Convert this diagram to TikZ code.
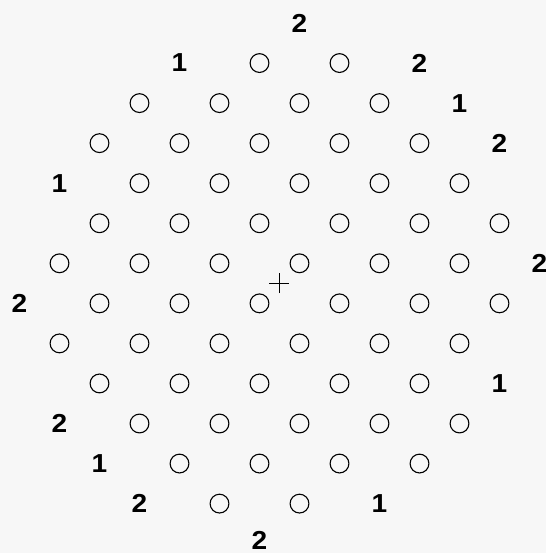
\documentclass[tikz,border=0pt]{standalone}
\usepackage{fontspec}
\setmainfont{Liberation Sans}
\definecolor{bg}{HTML}{F7F7F7}
\begin{document}
\begin{tikzpicture}[x=1pt,y=-1pt,
  hole/.style={circle,draw,line width=1.1pt,minimum size=18.8pt,inner sep=0pt},
  lbl/.style={font=\fontsize{26}{26}\selectfont\bfseries,inner sep=0pt,anchor=center,xscale=1.08}]
\fill[bg] (0,0) rectangle (546,553);
\useasboundingbox (0,0) rectangle (546,553);
% circles: row / first column / last column
\foreach \r/\a/\b in {1/3/4, 2/1/4, 3/1/5, 4/1/5, 5/1/6, 6/0/5, 7/1/6, 8/0/5, 9/1/5, 10/1/5, 11/2/5, 12/2/3}{
  \foreach \k in {\a,...,\b}{
    \pgfmathsetmacro\xx{59.5+80*\k-40*mod(\r,2)}
    \pgfmathsetmacro\yy{23+40.05*\r}
    \node[hole] (c\r-\k) at (\xx,\yy) {};
  }
}
% labels: row / column / text
\foreach \r/\k/\t in {0/3/2, 1/2/1, 1/5/2, 2/5/1, 3/6/2, 4/0/1, 6/6/2, 7/0/2, 9/6/1, 10/0/2, 11/1/1, 12/1/2, 12/4/1}{
  \pgfmathsetmacro\xx{59.5+80*\k-40*mod(\r,2)}
  \pgfmathsetmacro\yy{23+40.05*\r}
  \node[lbl] (l\r-\k) at (\xx,\yy) {\t};
}
\node[lbl] (l13-3) at (259.5,540) {2};
% centre mark
\coordinate (ctr) at (279,283);
\draw[line width=1pt] ([xshift=-10pt]ctr) -- ([xshift=10pt]ctr);
\draw[line width=1pt] ([yshift=-10pt]ctr) -- ([yshift=10pt]ctr);
\end{tikzpicture}
\end{document}
